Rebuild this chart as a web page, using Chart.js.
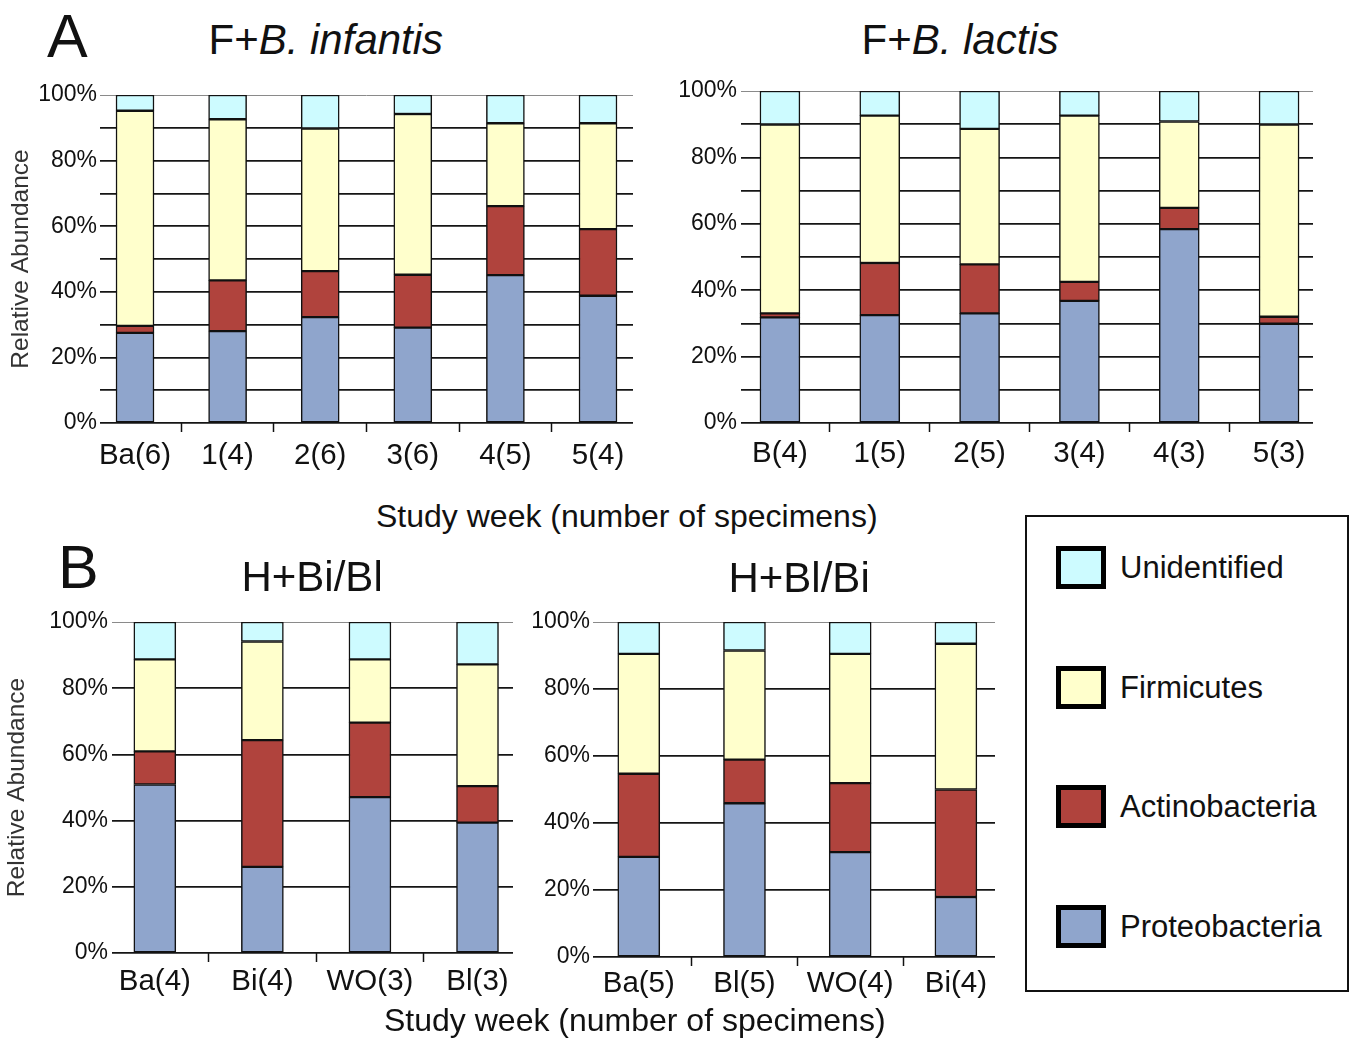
<!DOCTYPE html>
<html>
<head>
<meta charset="utf-8">
<script src="https://cdn.jsdelivr.net/npm/chart.js@4/dist/chart.umd.min.js"></script>
<style>
  html, body { margin:0; padding:0; background:#fff; }
  body { width:1355px; height:1042px; position:relative; overflow:hidden; font-family:"Liberation Sans", Arial, sans-serif; color:#111; }
  canvas { position:absolute; }
  .txt { position:absolute; white-space:nowrap; line-height:1; color:#111; }
  .sw { position:absolute; box-sizing:border-box; border:5px solid #000; width:50px; height:43px; }
  .lt { position:absolute; font-size:31px; line-height:43px; white-space:nowrap; color:#111; }
</style>
</head>
<body>
<canvas id="cAL" width="640" height="415" style="left:0px;top:70px;"></canvas>
<canvas id="cAR" width="670" height="419" style="left:660px;top:66px;"></canvas>
<canvas id="cBL" width="520" height="415" style="left:0px;top:597px;"></canvas>
<canvas id="cBR" width="490" height="415" style="left:520px;top:597px;"></canvas>

<div class="txt" style="left:47px;top:6px;font-size:61px;">A</div>
<div class="txt" id="tAL" style="top:19px;font-size:42px;">F+<i>B. infantis</i></div>
<div class="txt" id="tAR" style="top:19px;font-size:42px;">F+<i>B. lactis</i></div>
<div class="txt" id="xA" style="top:500px;font-size:32px;">Study week (number of specimens)</div>
<div class="txt" style="left:58px;top:537px;font-size:61px;">B</div>
<div class="txt" id="tBL" style="top:556px;font-size:42px;">H+Bi/Bl</div>
<div class="txt" id="tBR" style="top:557px;font-size:42px;">H+Bl/Bi</div>
<div class="txt" id="xB" style="top:1004px;font-size:32px;">Study week (number of specimens)</div>

<div id="legendBox" style="position:absolute;left:1025px;top:515px;width:320px;height:473px;border:2.5px solid #111;"></div>

<script>
// ---- data ----
const SERIES_NAMES = ['Proteobacteria', 'Actinobacteria', 'Firmicutes', 'Unidentified'];
const SERIES_COLORS = ['#8fa5cc', '#b0433d', '#ffffcc', '#cdfbff'];

// A: F+B. infantis
const infLabels = ['Ba(6)', '1(4)', '2(6)', '3(6)', '4(5)', '5(4)'];
const infProteo = [27.5, 28.0, 32.3, 29.1, 45.1, 38.8];
const infActino = [2.1, 15.5, 14.0, 16.1, 21.0, 20.3];
const infFirm   = [65.6, 49.1, 43.5, 49.0, 25.3, 32.3];
const infUnid   = [4.8, 7.4, 10.2, 5.8, 8.6, 8.6];

// A: F+B. lactis
const lacLabels = ['B(4)', '1(5)', '2(5)', '3(4)', '4(3)', '5(3)'];
const lacProteo = [31.8, 32.5, 33.0, 36.8, 58.4, 29.9];
const lacActino = [1.2, 15.7, 14.8, 5.7, 6.4, 2.1];
const lacFirm   = [56.9, 44.4, 40.8, 50.1, 26.0, 57.9];
const lacUnid   = [10.1, 7.4, 11.4, 7.4, 9.2, 10.1];

// B: H+Bi/Bl
const hbiLabels = ['Ba(4)', 'Bi(4)', 'WO(3)', 'Bl(3)'];
const hbiProteo = [50.9, 26.0, 47.1, 39.4];
const hbiActino = [10.0, 38.3, 22.5, 11.0];
const hbiFirm   = [27.8, 29.8, 19.1, 36.8];
const hbiUnid   = [11.3, 5.9, 11.3, 12.8];

// B: H+Bl/Bi
const hblLabels = ['Ba(5)', 'Bl(5)', 'WO(4)', 'Bi(4)'];
const hblProteo = [29.9, 45.9, 31.3, 17.9];
const hblActino = [24.8, 13.0, 20.6, 32.1];
const hblFirm   = [35.8, 32.6, 38.6, 43.5];
const hblUnid   = [9.5, 8.5, 9.5, 6.5];

const Y_TICK_LABEL_EVERY = 20;
const Y_AXIS_TITLE = 'Relative Abundance';

// ---- drawing ----
const FONT = '"Liberation Sans", Arial, sans-serif';
Chart.defaults.font.family = FONT;

function makeChart(id, labels, seriesValues, g) {
  const n = labels.length;
  new Chart(document.getElementById(id), {
    type: 'bar',
    data: {
      datasets: seriesValues.map((vals, k) => ({
        label: SERIES_NAMES[k],
        data: vals.map((v, i) => ({ x: i, y: v })),
        backgroundColor: SERIES_COLORS[k],
        borderColor: '#111',
        borderWidth: 1.5,
        borderSkipped: false,
        barThickness: g.barW,
        stack: 's'
      }))
    },
    options: {
      responsive: false,
      animation: false,
      events: [],
      layout: { padding: { top: g.padTop, right: g.padRight, left: 0, bottom: 0 } },
      plugins: { legend: { display: false }, tooltip: { enabled: false } },
      scales: {
        x: {
          type: 'linear',
          offset: false,
          min: g.xmin, max: g.xmax,
          afterBuildTicks: s => {
            const t = [];
            for (let i = 0; i < n; i++) {
              t.push({ value: i });
              if (i < n - 1) t.push({ value: i + 0.5 });
            }
            s.ticks = t;
          },
          afterFit: s => { s.height = g.xAxisH; },
          ticks: {
            autoSkip: false, maxRotation: 0, minRotation: 0,
            padding: g.xPad, color: '#111',
            font: { size: 29.5 },
            callback: v => Number.isInteger(v) ? labels[v] : ''
          },
          grid: {
            offset: false,
            drawOnChartArea: false, drawTicks: true, tickLength: 9,
            tickWidth: 1.5,
            tickColor: ctx => (ctx.tick && Number.isInteger(ctx.tick.value)) ? 'rgba(0,0,0,0)' : '#111'
          },
          border: { display: false }
        },
        y: {
          min: 0, max: 100, stacked: true,
          afterFit: s => { s.width = g.yAxisW; },
          ticks: {
            stepSize: g.step, padding: g.yPad, color: '#111',
            font: { size: 23 },
            callback: v => (v % Y_TICK_LABEL_EVERY === 0) ? v + '%' : ''
          },
          grid: {
            drawTicks: false,
            color: ctx => (ctx.tick && ctx.tick.value === 100) ? '#8a8a8a' : '#151515',
            lineWidth: ctx => (ctx.tick && ctx.tick.value === 100) ? 1 : 1.7
          },
          border: { display: false },
          title: {
            display: g.yTitle, text: Y_AXIS_TITLE, color: '#333',
            font: { size: 24.5 }, padding: { top: g.titlePad, bottom: 0 }
          }
        }
      }
    }
  });
}

makeChart('cAL', infLabels, [infProteo, infActino, infFirm, infUnid],
  { padTop: 25, padRight: 7, yAxisW: 100, xAxisH: 62, xPad: 6, xmin: -0.378, xmax: 5.378, barW: 38, step: 10, yPad: 3, yTitle: true, titlePad: 7 });
makeChart('cAR', lacLabels, [lacProteo, lacActino, lacFirm, lacUnid],
  { padTop: 25, padRight: 17, yAxisW: 81, xAxisH: 62, xPad: 4, xmin: -0.39, xmax: 5.34, barW: 40, step: 10, yPad: 4, yTitle: false, titlePad: 0 });
makeChart('cBL', hbiLabels, [hbiProteo, hbiActino, hbiFirm, hbiUnid],
  { padTop: 25, padRight: 7, yAxisW: 112, xAxisH: 59, xPad: 2, xmin: -0.398, xmax: 3.33, barW: 42, step: 20, yPad: 4, yTitle: true, titlePad: 3 });
makeChart('cBR', hblLabels, [hblProteo, hblActino, hblFirm, hblUnid],
  { padTop: 25, padRight: 15, yAxisW: 73, xAxisH: 55, xPad: 0, xmin: -0.433, xmax: 3.37, barW: 42, step: 20, yPad: 3, yTitle: false, titlePad: 0 });

// center text blocks
function centerAt(id, cx) {
  const el = document.getElementById(id);
  el.style.left = (cx - el.offsetWidth / 2) + 'px';
}
centerAt('tAL', 326);
centerAt('tAR', 960);
centerAt('xA', 627);
centerAt('tBL', 312);
centerAt('tBR', 799);
centerAt('xB', 635);

// legend (top to bottom: Unidentified, Firmicutes, Actinobacteria, Proteobacteria)
const legendTops = [905, 785, 666, 546];
SERIES_NAMES.forEach((name, k) => {
  const sw = document.createElement('div');
  sw.className = 'sw';
  sw.style.left = '1056px';
  sw.style.top = legendTops[k] + 'px';
  sw.style.background = SERIES_COLORS[k];
  document.body.appendChild(sw);
  const t = document.createElement('div');
  t.className = 'lt';
  t.style.left = '1120px';
  t.style.top = legendTops[k] + 'px';
  t.textContent = name;
  document.body.appendChild(t);
});
</script>
</body>
</html>
